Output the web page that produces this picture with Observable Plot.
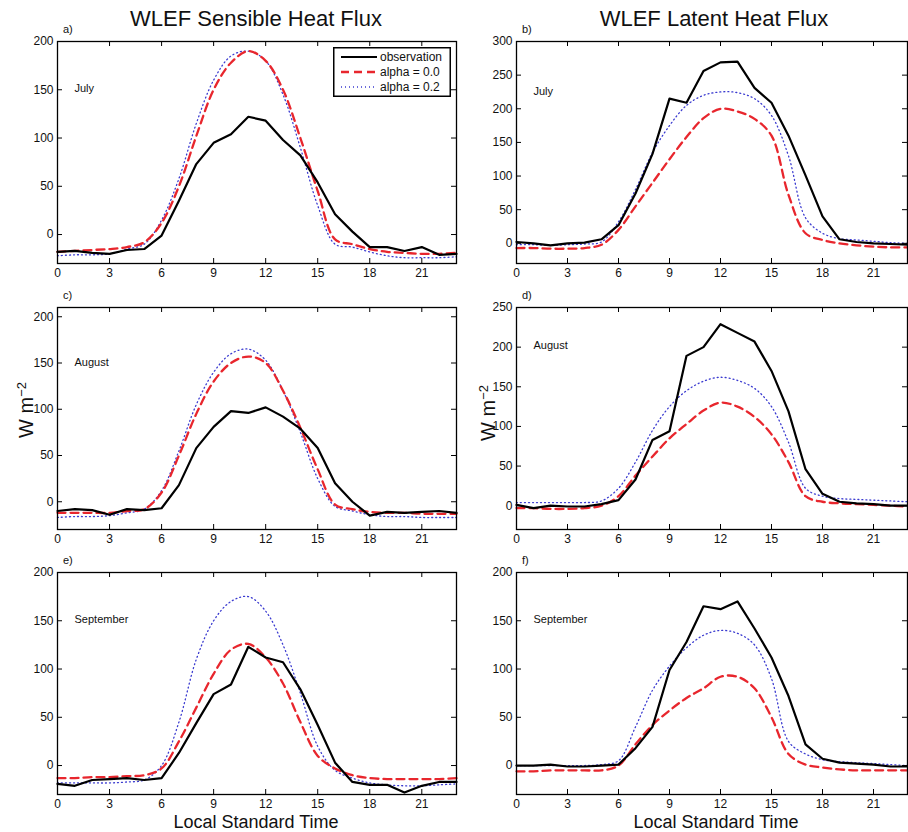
<!DOCTYPE html>
<html><head><meta charset="utf-8">
<script src="https://cdn.jsdelivr.net/npm/d3@7"></script>
<script src="https://cdn.jsdelivr.net/npm/@observablehq/plot@0.6"></script>
<style>
body{margin:0;background:#fff;font-family:"Liberation Sans",Arial,sans-serif;}
#wrap{position:relative;width:908px;height:832px;overflow:hidden;background:#fff;}
.abs{position:absolute;white-space:nowrap;color:#111;}
.title{font-size:22px;transform:translateX(-50%);}
.xlab{font-size:18px;line-height:1;transform:translateX(-50%);}
.plab{font-size:11px;}
.ylab{font-size:20px;transform:translate(-50%,-50%) rotate(-90deg);}
.ylab sup{font-size:13px;}
</style></head><body><div id="wrap"></div>
<script>
const hours = [0,1,2,3,4,5,6,7,8,9,10,11,12,13,14,15,16,17,18,19,20,21,22,23];
const xTicks = [0,3,6,9,12,15,18,21];
const seriesNames = ["observation","alpha = 0.0","alpha = 0.2"];
const months = ["July","August","September"];
const panelLetters = ["a)","b)","c)","d)","e)","f)"];
const columnTitles = ["WLEF Sensible Heat Flux","WLEF Latent Heat Flux"];

// Sensible heat flux (W m-2)
const shJulyObs = [-18,-17,-19,-20,-16,-15,-1,35,73,95,104,122,118,98,82,54,21,3,-13,-13,-17,-13,-21,-20];
const shJulyA0  = [-18,-17,-16,-15,-13,-8,12,50,102,150,178,190,180,150,100,45,-5,-10,-15,-18,-19,-20,-20,-19];
const shJulyA2  = [-22,-21,-21,-20,-15,-10,15,58,115,160,185,190,180,145,90,30,-10,-13,-18,-22,-24,-24,-24,-23];
const shAugObs  = [-10,-8,-9,-14,-8,-9,-7,18,58,81,98,96,102,92,79,58,20,0,-15,-11,-12,-11,-10,-12];
const shAugA0   = [-12,-12,-12,-12,-10,-8,10,50,95,130,150,157,150,120,80,35,-3,-8,-11,-12,-12,-13,-13,-13];
const shAugA2   = [-17,-16,-16,-15,-12,-8,12,55,105,140,160,165,153,120,75,25,-5,-10,-14,-16,-16,-17,-17,-17];
const shSepObs  = [-19,-21,-15,-14,-13,-15,-13,13,44,74,84,123,112,107,79,42,3,-17,-20,-20,-28,-21,-17,-17];
const shSepA0   = [-13,-13,-12,-12,-11,-10,-3,25,60,95,120,126,112,85,45,10,-3,-10,-13,-14,-14,-14,-14,-13];
const shSepA2   = [-18,-18,-18,-18,-17,-15,0,45,110,150,170,175,160,125,75,20,-5,-13,-18,-20,-21,-21,-20,-19];

// Latent heat flux (W m-2)
const lhJulyObs = [2,0,-3,0,1,6,27,74,133,215,209,256,269,270,231,209,160,101,40,6,2,0,-1,-2];
const lhJulyA0  = [-7,-7,-8,-8,-7,-2,20,55,90,125,158,186,200,196,185,160,72,15,5,0,-3,-5,-6,-6];
const lhJulyA2  = [-2,-2,-3,-2,-1,2,32,80,135,175,205,220,225,224,215,190,130,38,15,7,5,3,1,0];
const lhAugObs  = [1,-3,0,-1,-1,2,7,33,83,94,189,200,229,218,207,170,119,46,15,5,3,2,0,0];
const lhAugA0   = [-3,-3,-4,-4,-3,0,12,38,62,85,103,120,130,125,112,90,55,12,5,3,2,1,0,-1];
const lhAugA2   = [4,4,4,4,4,6,22,55,95,125,145,157,162,158,148,125,80,22,12,9,8,7,6,5];
const lhSepObs  = [0,0,1,-1,-1,0,1,18,40,99,128,165,162,170,142,112,72,22,7,3,2,1,-1,-1];
const lhSepA0   = [-6,-6,-5,-5,-5,-5,0,22,42,57,70,80,92,92,80,50,12,1,-2,-4,-5,-5,-5,-5];
const lhSepA2   = [0,0,0,0,0,1,5,40,78,103,122,135,140,137,125,90,25,12,6,4,3,2,1,0];

const yTicksA = [0,50,100,150,200];
const yTicksB = [0,50,100,150,200,250,300];
const yTicksC = [0,50,100,150,200];
const yTicksD = [0,50,100,150,200,250];
const yTicksE = [0,50,100,150,200];
const yTicksF = [0,50,100,150,200];

const yDomainA = [-30,200], yDomainB = [-30,300], yDomainC = [-30,210];
const yDomainD = [-30,250], yDomainE = [-30,200], yDomainF = [-30,200];

const colObs = "#000000", colA0 = "#e8262d", colA2 = "#3b3bd0";

const panels = [
  {letter: panelLetters[0], month: months[0], obs: shJulyObs, a0: shJulyA0, a2: shJulyA2, yd: yDomainA, yt: yTicksA, col: 0, row: 0, mdy: 49},
  {letter: panelLetters[1], month: months[0], obs: lhJulyObs, a0: lhJulyA0, a2: lhJulyA2, yd: yDomainB, yt: yTicksB, col: 1, row: 0, mdy: 52},
  {letter: panelLetters[2], month: months[1], obs: shAugObs, a0: shAugA0, a2: shAugA2, yd: yDomainC, yt: yTicksC, col: 0, row: 1, mdy: 57},
  {letter: panelLetters[3], month: months[1], obs: lhAugObs, a0: lhAugA0, a2: lhAugA2, yd: yDomainD, yt: yTicksD, col: 1, row: 1, mdy: 40},
  {letter: panelLetters[4], month: months[2], obs: shSepObs, a0: shSepA0, a2: shSepA2, yd: yDomainE, yt: yTicksE, col: 0, row: 2, mdy: 49},
  {letter: panelLetters[5], month: months[2], obs: lhSepObs, a0: lhSepA0, a2: lhSepA2, yd: yDomainF, yt: yTicksF, col: 1, row: 2, mdy: 49}
];

const wrap = document.getElementById("wrap");
const rowTop = [30, 296, 561];
const colLeft = [0, 460];
const colW = [460, 448];
const colML = [57, 56];
const colMR = [4, 1];
const MT = 11, MB = 20, FH = 222;

function addText(html, cls, left, top) {
  const d = document.createElement("div");
  d.className = "abs " + cls;
  d.style.left = left + "px";
  d.style.top = top + "px";
  d.innerHTML = html;
  wrap.appendChild(d);
  return d;
}

for (const p of panels) {
  const W = colW[p.col], ml = colML[p.col], mr = colMR[p.col];
  const FW = W - ml - mr;
  const H = MT + FH + MB;
  const xy = {x: (d, i) => hours[i], y: d => d};
  const chart = Plot.plot({
    width: W, height: H,
    marginLeft: ml, marginRight: mr, marginTop: MT, marginBottom: MB,
    style: {fontSize: "12px", fontFamily: "Liberation Sans, Arial, sans-serif", color: "#111", background: "transparent", overflow: "visible"},
    x: {domain: [0, 23]},
    y: {domain: p.yd},
    marks: [
      Plot.line(p.a2, {...xy, stroke: colA2, strokeWidth: 1.3, strokeDasharray: "1,3", curve: "catmull-rom"}),
      Plot.line(p.a0, {...xy, stroke: colA0, strokeWidth: 2.3, strokeDasharray: "8,5", curve: "catmull-rom"}),
      Plot.line(p.obs, {...xy, stroke: colObs, strokeWidth: 2.2}),
      Plot.tickX(xTicks, {x: d => d, stroke: "#000", strokeWidth: 1, insetTop: FH - 5}),
      Plot.tickX(xTicks, {x: d => d, stroke: "#000", strokeWidth: 1, insetBottom: FH - 5}),
      Plot.tickY(p.yt, {y: d => d, stroke: "#000", strokeWidth: 1, insetRight: FW - 5}),
      Plot.tickY(p.yt, {y: d => d, stroke: "#000", strokeWidth: 1, insetLeft: FW - 5}),
      Plot.axisX({ticks: xTicks, tickSize: 0, tickPadding: 5, label: null}),
      Plot.axisY({ticks: p.yt, tickSize: 0, tickPadding: 4, label: null}),
      Plot.text([p.month], {text: d => d, frameAnchor: "top-left", dx: 17, dy: p.mdy - 6, fontSize: 11, textAnchor: "start"}),
      Plot.frame({stroke: "#000", strokeWidth: 1.3})
    ]
  });
  chart.style.position = "absolute";
  chart.style.left = colLeft[p.col] + "px";
  chart.style.top = rowTop[p.row] + "px";
  wrap.appendChild(chart);
  addText(p.letter, "plab", colLeft[p.col] + ml + 6, rowTop[p.row] - 7);
}

// column titles
addText(columnTitles[0], "title", 256, 6);
addText(columnTitles[1], "title", 714, 6);
// x labels
addText("Local Standard Time", "xlab", 256, 813);
addText("Local Standard Time", "xlab", 716, 813);
// y labels
addText("W m<sup>−2</sup>", "ylab", 26, 410);
addText("W m<sup>−2</sup>", "ylab", 488, 413);

// legend (panel a)
const lg = d3.select(wrap).append("svg")
  .style("position", "absolute").style("left", "333px").style("top", "47px")
  .attr("width", 118).attr("height", 50);
lg.append("rect").attr("x", 0.75).attr("y", 0.75).attr("width", 116.5).attr("height", 48.5)
  .attr("fill", "#fff").attr("stroke", "#000").attr("stroke-width", 1.5);
const lgStyles = [
  {stroke: colObs, w: 2.2, dash: null},
  {stroke: colA0, w: 2.3, dash: "8,5"},
  {stroke: colA2, w: 1.3, dash: "1,3"}
];
seriesNames.forEach((name, i) => {
  const y = 10 + i * 15;
  lg.append("line").attr("x1", 8).attr("x2", 44).attr("y1", y).attr("y2", y)
    .attr("stroke", lgStyles[i].stroke).attr("stroke-width", lgStyles[i].w)
    .attr("stroke-dasharray", lgStyles[i].dash);
  lg.append("text").attr("x", 47).attr("y", y).attr("dy", "0.35em")
    .attr("font-size", 12).attr("font-family", "Liberation Sans, Arial, sans-serif").attr("fill", "#111")
    .text(name);
});
</script>
</body></html>
